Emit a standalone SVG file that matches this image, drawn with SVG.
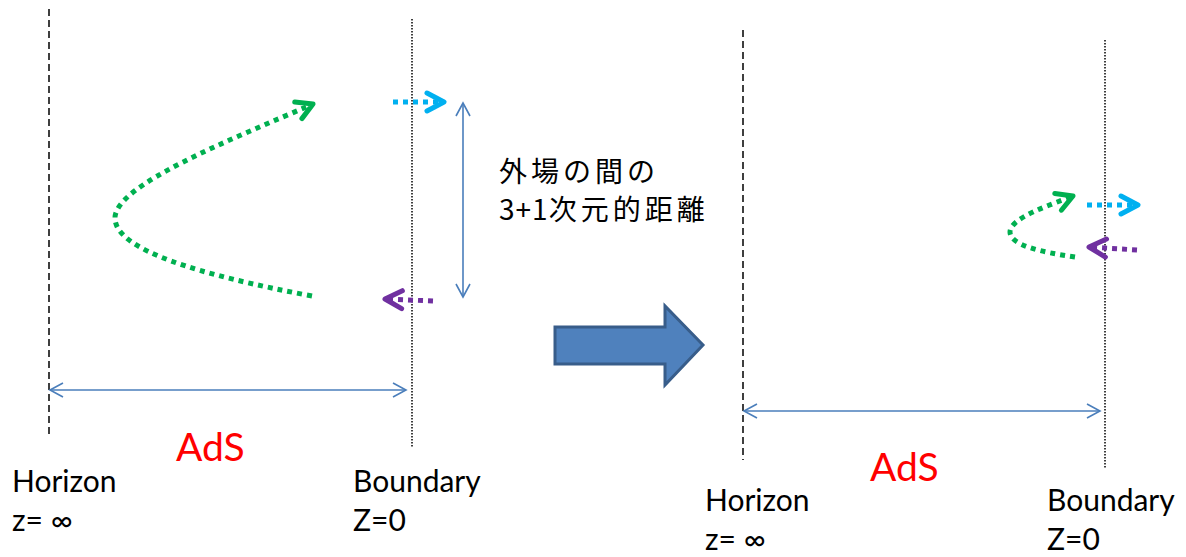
<svg xmlns="http://www.w3.org/2000/svg" width="1186" height="557" viewBox="0 0 1186 557">
<style>
.lbl{font-family:Lato,"Liberation Sans","Noto Sans CJK JP",sans-serif;font-size:30px;fill:#000}
.ads{font-family:Lato,"Liberation Sans",sans-serif;font-size:39px;fill:#FF0000}
.jp{font-family:"Noto Sans CJK JP",sans-serif;font-size:28px;fill:#000}
.cj{letter-spacing:4px}
.hz{stroke:#000;stroke-width:1.5;stroke-dasharray:7 4;fill:none}
.bd{stroke:#000;stroke-width:1.5;stroke-dasharray:1.5 1.5;fill:none}
.dim{stroke:#4A7EBB;stroke-width:1.6;fill:none;marker-start:url(#db);marker-end:url(#db)}
.dot{fill:none;stroke-width:5;stroke-dasharray:5 5}
</style>
<defs>
<marker id="db" markerUnits="userSpaceOnUse" orient="auto-start-reverse" overflow="visible" markerWidth="20" markerHeight="20" refX="0" refY="0">
<path d="M-13,-7 L0,0 L-13,7" fill="none" stroke="#4A7EBB" stroke-width="1.6"/>
</marker>
<marker id="mg" markerUnits="userSpaceOnUse" orient="auto" overflow="visible" markerWidth="30" markerHeight="30" refX="0" refY="0">
<path d="M-16,-9 L0,0 L-16,9" fill="none" stroke="#00B050" stroke-width="5" stroke-linecap="round" stroke-linejoin="round"/>
</marker>
<marker id="mc" markerUnits="userSpaceOnUse" orient="auto" overflow="visible" markerWidth="30" markerHeight="30" refX="0" refY="0">
<path d="M-17,-9 L0,0 L-17,9" fill="none" stroke="#00B0F0" stroke-width="5" stroke-linecap="round" stroke-linejoin="round"/>
</marker>
<marker id="mp" markerUnits="userSpaceOnUse" orient="auto" overflow="visible" markerWidth="30" markerHeight="30" refX="0" refY="0">
<path d="M-17,-9 L0,0 L-17,9" fill="none" stroke="#7030A0" stroke-width="5" stroke-linecap="round" stroke-linejoin="round"/>
</marker>
</defs>

<g id="left-horizon"><line class="hz" x1="49" y1="9" x2="49" y2="438"/></g>
<g id="left-boundary"><line class="bd" x1="412" y1="19" x2="412" y2="448"/></g>
<g id="right-horizon"><line class="hz" x1="743" y1="30" x2="743" y2="460"/></g>
<g id="right-boundary"><line class="bd" x1="1105" y1="40" x2="1105" y2="468"/></g>

<g id="connectors">
<path class="dot" stroke="#00B050" d="M312,296 C200,275 115,250 115,218 C115,185 230,140 313,104" marker-end="url(#mg)"/>
<line class="dot" stroke="#00B0F0" x1="393" y1="102" x2="444" y2="102" marker-end="url(#mc)"/>
<line class="dot" stroke="#7030A0" x1="433" y1="301" x2="385" y2="299" marker-end="url(#mp)"/>
<line class="dim" x1="463" y1="103" x2="463" y2="297"/>
<line class="dim" x1="50" y1="390" x2="406" y2="390"/>
<path class="dot" stroke="#00B050" d="M1075,257 C1040,252 1010,245 1010,232 C1010,218 1050,205 1073,196" marker-end="url(#mg)"/>
<line class="dot" stroke="#00B0F0" x1="1087" y1="205" x2="1138" y2="205" marker-end="url(#mc)"/>
<line class="dot" stroke="#7030A0" x1="1137" y1="250" x2="1089" y2="247" marker-end="url(#mp)"/>
<line class="dim" x1="744" y1="411" x2="1100" y2="411"/>
</g>

<g id="big-arrow">
<path d="M555,327 L665,327 L665,306 L703,345 L665,385 L665,364 L555,364 Z" fill="#4F81BD" stroke="#385D8A" stroke-width="3" stroke-linejoin="miter"/>
</g>

<g id="label-distance">
<text class="jp cj" x="499" y="182">外場の間の</text>
<text class="jp" x="499" y="220"><tspan letter-spacing="1">3+1</tspan><tspan class="cj">次元的距離</tspan></text>
</g>
<g id="left-ads"><text class="ads" x="176" y="461">AdS</text></g>
<g id="left-horizon-label">
<text class="lbl" x="12" y="492">Horizon</text>
<text class="lbl" x="12" y="531">z= ∞</text>
</g>
<g id="left-boundary-label">
<text class="lbl" x="353" y="492">Boundary</text>
<text class="lbl" x="353" y="531">Z=0</text>
</g>
<g id="right-ads"><text class="ads" x="870" y="481">AdS</text></g>
<g id="right-horizon-label">
<text class="lbl" x="705" y="511">Horizon</text>
<text class="lbl" x="705" y="550">z= ∞</text>
</g>
<g id="right-boundary-label">
<text class="lbl" x="1047" y="511">Boundary</text>
<text class="lbl" x="1047" y="550">Z=0</text>
</g>
</svg>
